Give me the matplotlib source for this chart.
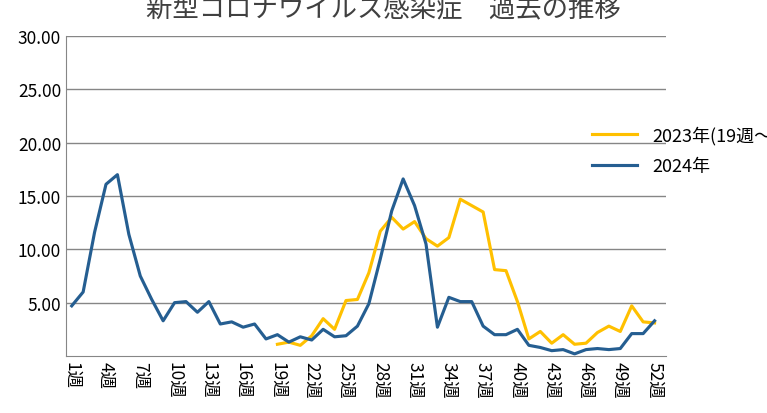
import numpy as np
import matplotlib.pyplot as plt

plt.rcParams["font.family"] = ["Noto Sans CJK JP", "DejaVu Sans"]

weeks = list(range(1, 53))
y2024 = [4.7, 6.0, 11.6, 16.1, 17.0, 11.4, 7.5, 5.3, 3.3, 5.0,
         5.1, 4.1, 5.1, 3.0, 3.2, 2.7, 3.0, 1.6, 2.0, 1.3,
         1.8, 1.5, 2.5, 1.8, 1.9, 2.8, 4.9, 9.1, 13.6, 16.6,
         14.1, 10.5, 2.7, 5.5, 5.1, 5.1, 2.8, 2.0, 2.0, 2.5,
         1.0, 0.8, 0.5, 0.6, 0.2, 0.6, 0.7, 0.6, 0.7, 2.1,
         2.1, 3.3]
weeks2023 = list(range(19, 53))
y2023 = [1.1, 1.3, 1.0, 1.9, 3.5, 2.5, 5.2, 5.3, 7.8, 11.7,
         13.0, 11.9, 12.6, 11.0, 10.3, 11.1, 14.7, 14.1, 13.5, 8.1,
         8.0, 5.1, 1.6, 2.3, 1.2, 2.0, 1.1, 1.2, 2.2, 2.8,
         2.3, 4.7, 3.2, 3.1]
tick_weeks = list(range(1, 53, 3))
tick_labels = [f"{w}週" for w in tick_weeks]

fig = plt.figure(figsize=(7.67, 4.14), dpi=100)
ax = fig.add_axes([66/767, 1 - 357/414, 600/767, 320/414])
ax.plot(weeks2023, y2023, color="#FFC000", lw=2.25, label="2023年(19週～)")
ax.plot(weeks, y2024, color="#255E91", lw=2.25, label="2024年")
ax.set_ylim(0, 30)
ax.set_xlim(0.5, 53)
ax.set_yticks([5, 10, 15, 20, 25, 30])
ax.set_yticklabels([f"{v:.2f}" for v in [5, 10, 15, 20, 25, 30]], fontsize=12.5)
ax.set_xticks(tick_weeks)
ax.set_xticklabels(tick_labels, rotation=270, fontsize=12.5)
ax.tick_params(length=0)
ax.yaxis.grid(True, color="#868686", lw=1)
ax.set_axisbelow(True)
for s in ["top", "right"]:
    ax.spines[s].set_visible(False)
for s in ["left", "bottom"]:
    ax.spines[s].set_color("#868686")
fig.suptitle("新型コロナウイルス感染症　過去の推移", x=0.5, y=1.01, fontsize=19, color="#404040")
ax.legend(loc="upper left", bbox_to_anchor=(0.85, 0.77), frameon=False, fontsize=13,
          handlelength=2.5, labelspacing=0.7)
fig.savefig("out.png")
